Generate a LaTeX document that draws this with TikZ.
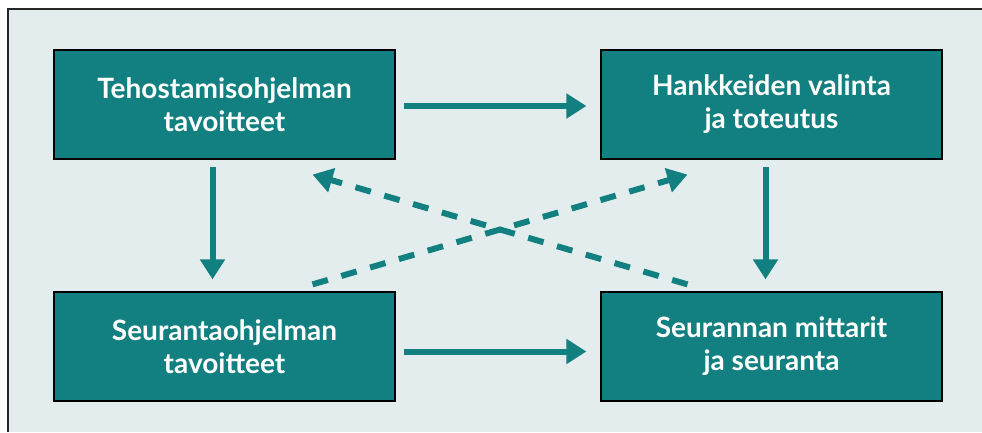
\documentclass[tikz,border=0pt]{standalone}
\usepackage{fontspec}
\setmainfont{Lato}
\usepackage{xcolor}
\usetikzlibrary{calc, arrows.meta}
\definecolor{petrooli}{RGB}{18,128,128}
\definecolor{tausta}{RGB}{228,237,238}
\tikzset{
  laatikko/.style = {align=center, inner sep=0pt, text centered,
    font=\fontsize{28}{33}\selectfont\bfseries},
  box_n/.style = {laatikko, rectangle, fill=petrooli, draw=black,
    line width=1.2pt, text=white,
    minimum width=341pt, minimum height=109pt},% laatikko
  nuoli/.style = {draw=petrooli, line width=6pt,
    -{Triangle[length=20pt,width=24pt]}},% kiintea nuoli
  nuoli_d/.style = {nuoli, dash pattern=on 16pt off 14pt}% katkoviiva nuoli
}
\begin{document}
\begin{tikzpicture}[x=1pt, y=-1pt]
\useasboundingbox (0,0) rectangle (982,432);
% tausta ja kehys
\fill[tausta] (8,9) rectangle (982,432);
\draw[line width=1.5pt, black!85] (982,9) -- (8,9) -- (8,432);

\node[box_n] (a1) at (224.5,104.5) {Tehostamisohjelman\\tavoitteet};
\node[box_n] (a2) at (771.5,104.5) {Hankkeiden valinta\\ja toteutus};
\node[box_n] (a3) at (224.5,346.5) {Seurantaohjelman\\tavoitteet};
\node[box_n] (a4) at (771.5,346.5) {Seurannan mittarit\\ja seuranta};

\draw[nuoli, shorten <=8pt, shorten >=14pt] ([yshift=-1.5pt]a1.east) -- ([yshift=-1.5pt]a2.west);
\draw[nuoli, shorten <=8pt, shorten >=14pt] ([yshift=-5pt]a3.east) -- ([yshift=-5pt]a4.west);
\draw[nuoli, shorten <=7pt, shorten >=12pt] ([xshift=-12pt]a1.south) -- ([xshift=-12pt]a3.north);
\draw[nuoli, shorten <=7pt, shorten >=12pt] ([xshift=-6pt]a2.south) -- ([xshift=-6pt]a4.north);
\draw[nuoli_d] ([xshift=88pt,yshift=7pt]a3.north) -- ([xshift=-84pt,yshift=-15pt]a2.south);
\draw[nuoli_d] ([xshift=-84pt,yshift=7pt]a4.north) -- ([xshift=88pt,yshift=-15pt]a1.south);
\end{tikzpicture}
\end{document}
